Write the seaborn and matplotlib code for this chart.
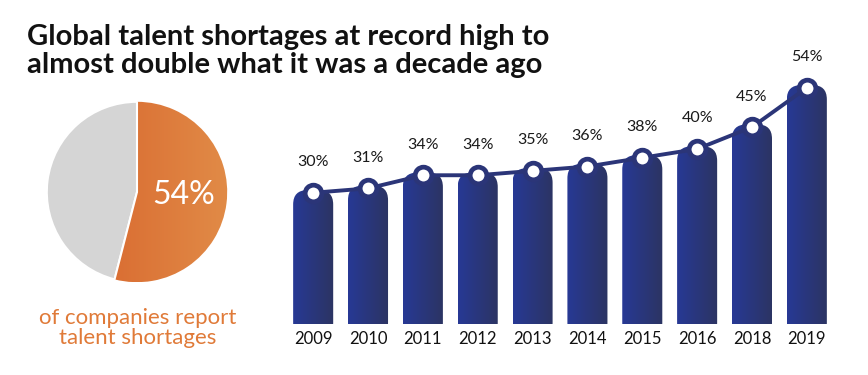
import numpy as np
import matplotlib
matplotlib.use("Agg")
import matplotlib.pyplot as plt
from matplotlib.colors import LinearSegmentedColormap
from matplotlib.patches import FancyBboxPatch
import seaborn as sns
import pandas as pd

# data
years = ["2009", "2010", "2011", "2012", "2013", "2014", "2015", "2016", "2018", "2019"]
shortage_pct = [30, 31, 34, 34, 35, 36, 38, 40, 45, 54]
pie_share = [54, 46]
pie_label = "54%"
caption = "of companies report\ntalent shortages"
title = "Global talent shortages at record high to\nalmost double what it was a decade ago"

sns.set_style("white")
plt.rcParams["font.family"] = ["Lato", "DejaVu Sans"]

fig = plt.figure(figsize=(8.68, 3.75), dpi=100)
fig.text(27 / 868, 1 - 51 / 375, title, fontsize=21, fontweight="bold",
         color="#111111", va="center", ha="left", linespacing=1.12)

# ---- pie ----
pax = fig.add_axes([45 / 868, 1 - 284 / 375, 184 / 868, 184 / 375])
wedges, _ = pax.pie(pie_share, colors=["#dd6d30", "#d5d5d5"], startangle=90,
                    counterclock=False,
                    wedgeprops=dict(edgecolor="white", linewidth=1.5))
orange = LinearSegmentedColormap.from_list("og", ["#d65e28", "#e18b47"])
grad = np.linspace(0, 1, 256).reshape(1, -1)
im = pax.imshow(grad, cmap=orange, extent=(-1, 1, -1, 1), aspect="auto", zorder=2)
im.set_clip_path(wedges[0])
ang = np.radians(90 - 3.6 * pie_share[0])
pax.plot([0, np.cos(ang)], [0, np.sin(ang)], color="white", lw=1.5, zorder=3)
pax.plot([0, 0], [0, 1], color="white", lw=1.5, zorder=3)
pax.text(0.52, -0.03, pie_label, color="white", fontsize=23, ha="center", va="center", zorder=4)
pax.set_xlim(-1.02, 1.02)
pax.set_ylim(-1.02, 1.02)
pax.set_aspect("equal")
fig.text(138 / 868, 1 - 328 / 375, caption, color="#e07a38", fontsize=16,
         ha="center", va="center", linespacing=1.0)

# ---- bars ----
ax = fig.add_axes([283 / 868, 51 / 375, 554 / 868, 262.5 / 375])
df = pd.DataFrame({"year": years, "pct": shortage_pct})
sns.barplot(data=df, x="year", y="pct", color="#283a8e", width=0.73, ax=ax, zorder=1)

ylim = (0, 60)
ax.set_ylim(*ylim)
ax.set_xlim(-0.55, len(years) - 0.45)
fig.canvas.draw()
bbox = ax.get_window_extent()
x_px = bbox.width / (len(years) + 0.1)
y_px = bbox.height / (ylim[1] - ylim[0])
aspect = x_px / y_px

blue = LinearSegmentedColormap.from_list("bl", ["#273995", "#2c3462"])
for p in list(ax.patches):
    x, w, h = p.get_x(), p.get_width(), p.get_height()
    p.set_visible(False)
    fb = FancyBboxPatch((x, -3), w, h + 3.6,
                        boxstyle="round,pad=0,rounding_size=0.26",
                        mutation_aspect=aspect, facecolor="none",
                        edgecolor="none", transform=ax.transData)
    ax.add_patch(fb)
    gi = ax.imshow(grad, cmap=blue, extent=(x, x + w, -3, h + 1),
                   aspect="auto", zorder=1)
    gi.set_clip_path(fb)

xs = np.arange(len(years))
sns.lineplot(x=xs, y=shortage_pct, ax=ax, color="#2b3578", lw=2.8,
             marker="o", markersize=12, markerfacecolor="white",
             markeredgecolor="#2b3578", markeredgewidth=3.4, zorder=3)
for xi, v in zip(xs, shortage_pct):
    ax.annotate(f"{v}%", (xi, v), xytext=(0, 22), textcoords="offset points",
                ha="center", va="center", fontsize=11.5, color="#1a1a1a")

ax.set_ylim(*ylim)
ax.set_xlim(-0.55, len(years) - 0.45)
ax.set_xticks(xs)
ax.set_xticklabels(years, fontsize=12, color="#111111")
ax.tick_params(axis="x", length=0, pad=5)
ax.set_yticks([])
ax.set_xlabel("")
ax.set_ylabel("")
for s in ax.spines.values():
    s.set_visible(False)
ax.patch.set_alpha(0)

fig.savefig("out.png", dpi=100)
